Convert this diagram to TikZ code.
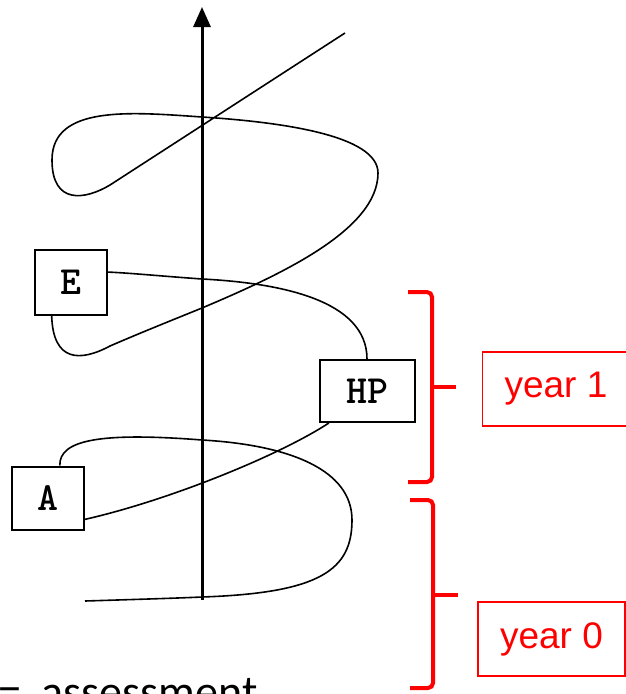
\documentclass[tikz,border=0pt]{standalone}
\usepackage{fontspec}
\setmainfont{Liberation Sans}
\newfontfamily\notefont{Carlito}
\usetikzlibrary{arrows.meta, positioning, calc}
\definecolor{yearred}{RGB}{255, 0, 0}

\begin{document}
\begin{tikzpicture}[x=1pt, y=-1pt,
  stagebox/.style={draw, line width=2pt, font=\ttfamily\bfseries\fontsize{40}{40}\selectfont, inner sep=0pt, minimum width=72pt, minimum height=63pt},
  spiral/.style={line width=1.6pt},
  yearbox/.style={draw=yearred, line width=1.3pt, text=yearred, font=\fontsize{37}{37}\selectfont, minimum width=147pt, minimum height=74pt, inner sep=0pt},
  yearbrace/.style={draw=yearred, line width=4pt, rounded corners=5pt}]
  \useasboundingbox (0,0) rectangle (626,694);
  \clip (0,0) rectangle (626,694);

  % Time axis
  \coordinate (base) at (202,600);
  \coordinate (tip) at (202,7);
  \draw[line width=3pt, -{Triangle[length=20pt, width=17pt]}] (base) -- (tip);

  % Stages
  \node[stagebox, minimum height=65pt] (E) at (71,282) {E};
  \node[stagebox, minimum width=95pt, minimum height=62pt] (HP) at (367,391) {HP};
  \node[stagebox] (A) at (48,498) {A};

  % Spiral
  \coordinate (start) at (85,601);
  \coordinate (end) at (345,33);
  \draw[spiral] (start) .. controls (150,599) and (180,598) .. (202,597)
    .. controls (320,593) and (352,570) .. (352,520)
    .. controls (352,470) and (290,445) .. (202,440)
    .. controls (100,432) and (59,440) .. (A.70);
  \draw[spiral] (A.-30) .. controls (170,500) and (280,455) .. (HP.-140);
  \draw[spiral] (HP.north) .. controls (367,300) and (280,283) .. (202,279)
    .. controls (160,276) and (130,273) .. (E.15);
  \draw[spiral] (E.-120) .. controls (53,362) and (80,362) .. (110,346)
    .. controls (140,333) and (170,321) .. (202,308)
    .. controls (280,275) and (378,230) .. (378,173)
    .. controls (378,135) and (280,122) .. (202,117)
    .. controls (130,112) and (52,105) .. (52,160)
    .. controls (52,205) and (85,200) .. (110,185)
    -- (end);

  % Years
  \node[yearbox] (year1) at (556,389) {year 1};
  \node[yearbox] (year0) at (551.5,639) {year 0};
  \draw[yearbrace] (408,292) -- (432,292) -- (432,482) -- (408,482);
  \draw[yearbrace] (432,387) -- (456,387);
  \draw[yearbrace] (410,500) -- (433,500) -- (433,688) -- (410,688);
  \draw[yearbrace] (433,595) -- (458,595);

  % Key
  \node[font=\notefont\fontsize{46}{46}\selectfont, anchor=base west, inner sep=0pt] (key) at (-2,707) {=\ \ assessment};
\end{tikzpicture}
\end{document}
